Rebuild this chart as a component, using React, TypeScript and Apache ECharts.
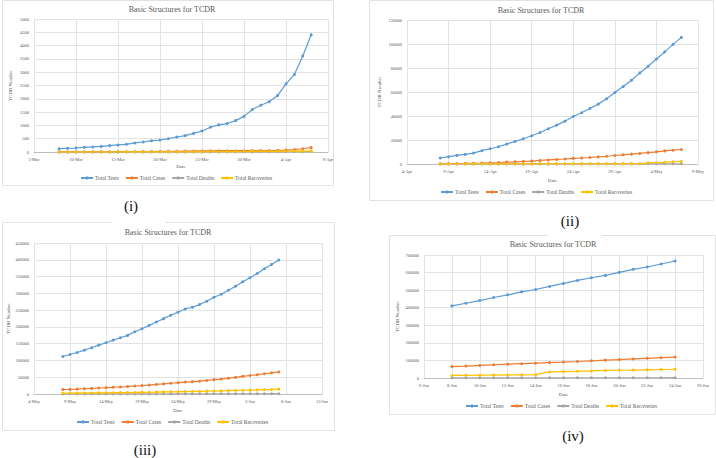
import React, { useEffect, useRef } from "react";
import * as echarts from "echarts";

const MONTHS = ["Jan", "Feb", "Mar", "Apr", "May", "Jun", "Jul"];
function dayLabels(month: number, day: number, count: number): string[] {
  const out: string[] = [];
  const d = new Date(2020, month, day);
  for (let i = 0; i < count; i++) {
    out.push(`${d.getDate()}-${MONTHS[d.getMonth()]}`);
    d.setDate(d.getDate() + 1);
  }
  return out;
}

const SERIES_NAMES = ["Total Tests", "Total Cases", "Total Deaths", "Total Recoveries"];
const COLORS = ["#5b9bd5", "#ed7d31", "#a5a5a5", "#ffc000"];
const PANEL_LABELS = ["(i)", "(ii)", "(iii)", "(iv)"];
const TITLE = "Basic Structures for TCDR";

// Panel (i): axis 5-Mar..9-Apr, data 8-Mar..7-Apr
const cats1 = dayLabels(2, 5, 36);
const start1 = 3;
const tests1 = [125, 140, 150, 175, 190, 210, 240, 265, 290, 340, 375, 425, 450, 500, 565, 615, 700, 790, 930, 1020, 1070, 1180, 1340, 1600, 1755, 1890, 2120, 2560, 2910, 3610, 4410];
const cases1 = [3, 3, 3, 3, 3, 3, 3, 5, 8, 10, 14, 17, 20, 24, 27, 33, 39, 39, 44, 48, 48, 48, 49, 51, 54, 56, 61, 70, 88, 123, 164];
const deaths1 = [0, 0, 0, 0, 0, 0, 0, 0, 0, 0, 1, 1, 1, 2, 2, 3, 4, 4, 5, 5, 5, 5, 5, 5, 6, 6, 6, 8, 9, 12, 17];
const recs1 = [0, 0, 0, 0, 0, 0, 0, 3, 3, 3, 3, 3, 3, 3, 3, 5, 7, 7, 11, 11, 15, 15, 19, 25, 25, 26, 26, 30, 33, 33, 33];

// Panel (ii): axis 4-Apr..9-May, data 8-Apr..7-May
const cats2 = dayLabels(3, 4, 36);
const start2 = 4;
const tests2 = [5000, 6100, 7200, 8000, 9100, 11100, 12700, 14400, 16600, 18800, 21000, 23500, 26300, 29400, 32400, 35700, 39600, 42700, 46300, 49900, 54300, 59600, 64500, 69800, 75900, 81400, 87500, 93400, 99700, 105500];
const cases2 = [218, 330, 424, 482, 621, 803, 1012, 1231, 1572, 1838, 2144, 2456, 2948, 3382, 3772, 4186, 4689, 4998, 5416, 5913, 6462, 7103, 7667, 8238, 8790, 9455, 10143, 10929, 11500, 12100];
const deaths2 = [20, 21, 27, 30, 34, 39, 46, 50, 60, 75, 84, 91, 101, 110, 120, 127, 131, 140, 145, 152, 155, 163, 168, 170, 175, 177, 182, 183, 186, 199];
const recs2 = [33, 39, 42, 42, 44, 46, 49, 49, 50, 58, 66, 75, 85, 87, 92, 108, 112, 113, 122, 131, 150, 150, 160, 174, 177, 1063, 1210, 1403, 1910, 2101];

// Panel (iii): axis 4-May..13-Jun, data 8-May..7-Jun
const cats3 = dayLabels(4, 4, 41);
const start3 = 4;
const tests3 = [111800, 117800, 123800, 130700, 137700, 145700, 152700, 160700, 167700, 174700, 185600, 194600, 204600, 214600, 224600, 234500, 243500, 253500, 258500, 266500, 276500, 288400, 297400, 309400, 321400, 334400, 346300, 359300, 373300, 386200, 399200];
const cases3 = [13134, 13770, 14657, 15691, 16660, 17822, 18863, 20065, 20995, 22268, 23870, 25121, 26738, 28511, 30205, 32078, 33610, 35585, 36751, 38292, 40321, 42844, 44608, 47153, 49534, 52445, 55140, 57563, 60391, 63026, 65769];
const deaths3 = [206, 214, 228, 239, 250, 269, 283, 298, 314, 328, 349, 370, 386, 408, 432, 452, 480, 480, 501, 522, 544, 582, 610, 650, 672, 709, 746, 781, 811, 846, 888];
const recs3 = [2101, 2414, 2650, 2902, 3147, 3361, 3584, 3882, 4117, 4373, 4585, 4993, 5207, 5602, 6190, 6486, 6901, 7334, 7579, 7925, 8425, 9015, 9375, 9781, 10597, 11120, 11590, 12161, 12804, 13325, 14560];

// Panel (iv): axis 6-Jun..26-Jun, data 8-Jun..24-Jun
const cats4 = dayLabels(5, 6, 21);
const start4 = 2;
const tests4 = [410300, 425600, 440800, 458000, 473300, 490500, 503800, 521000, 538200, 555300, 570600, 584000, 601100, 618300, 631700, 648900, 666000];
const cases4 = [65000, 68000, 71500, 75000, 78500, 81500, 84500, 87500, 90500, 94000, 98000, 101500, 105000, 108500, 112000, 115500, 119000];
const deaths4 = [930, 975, 1012, 1049, 1095, 1139, 1171, 1209, 1262, 1305, 1343, 1388, 1425, 1464, 1502, 1545, 1582];
const recs4 = [14560, 15337, 15899, 16748, 17249, 17827, 18730, 34500, 36264, 38189, 40164, 42945, 43993, 45077, 46755, 48401, 49666];

const yMax = [5000, 120000, 450000, 700000];
const yStep = [500, 20000, 50000, 100000];

const panelData = [
  { cats: cats1, start: start1, series: [tests1, cases1, deaths1, recs1], labelEvery: 4 },
  { cats: cats2, start: start2, series: [tests2, cases2, deaths2, recs2], labelEvery: 4 },
  { cats: cats3, start: start3, series: [tests3, cases3, deaths3, recs3], labelEvery: 4 },
  { cats: cats4, start: start4, series: [tests4, cases4, deaths4, recs4], labelEvery: 1 },
];

// layout (pixels)
const layout = [
  { card: [2, 0, 331, 185], grid: [34, 19, 294, 133], title: [172, 9], legend: [80, 175], xGap: 12, yGap: 21, label: [131, 206] },
  { card: [369, 0, 344, 200], grid: [407, 20, 291, 144], title: [541, 10], legend: [440, 189], xGap: 14, yGap: 25, label: [570, 221] },
  { card: [2, 222, 332, 208], grid: [34, 243, 288, 151], title: [168, 232], legend: [76, 419], xGap: 14, yGap: 23, label: [145, 450] },
  { card: [389, 235, 326, 179], grid: [424, 255, 279, 123], title: [553, 244], legend: [465, 403], xGap: 14, yGap: 24, label: [573, 436] },
];

const FONT = '"Liberation Serif", "Times New Roman", serif';
const TXT = "#595959";

function pad(values: number[], start: number, total: number): (number | string)[] {
  const out: (number | string)[] = [];
  for (let i = 0; i < total; i++) {
    const j = i - start;
    out.push(j >= 0 && j < values.length ? values[j] : "-");
  }
  return out;
}

export default function App() {
  const ref = useRef<HTMLDivElement>(null);
  useEffect(() => {
    if (!ref.current) return;
    const chart = echarts.init(ref.current, undefined, { renderer: "svg" });
    const grid: any[] = [];
    const xAxis: any[] = [];
    const yAxis: any[] = [];
    const series: any[] = [];
    const legend: any[] = [];
    const graphic: any[] = [];

    panelData.forEach((p, i) => {
      const L = layout[i];
      graphic.push({
        type: "rect",
        shape: { x: L.card[0] + 0.5, y: L.card[1] + 0.5, width: L.card[2], height: L.card[3] },
        style: { fill: "#fff", stroke: "#e2e2e2", lineWidth: 1 },
        z: -10,
        silent: true,
      });
      graphic.push({
        type: "text",
        x: L.title[0],
        y: L.title[1],
        style: { text: TITLE, textAlign: "center", textVerticalAlign: "middle", fontSize: 8, fontFamily: FONT, fill: TXT },
        silent: true,
      });
      graphic.push({
        type: "text",
        x: L.label[0],
        y: L.label[1],
        style: { text: PANEL_LABELS[i], textAlign: "center", textVerticalAlign: "middle", fontSize: 15, fontFamily: FONT, fill: "#111" },
        silent: true,
      });
      grid.push({ left: L.grid[0], top: L.grid[1], width: L.grid[2], height: L.grid[3], containLabel: false });
      xAxis.push({
        type: "category",
        gridIndex: i,
        data: p.cats,
        boundaryGap: false,
        name: "Date",
        nameLocation: "middle",
        nameGap: L.xGap,
        nameTextStyle: { fontSize: 5, fontFamily: FONT, color: TXT },
        axisLine: { lineStyle: { color: "#bfbfbf", width: 1 } },
        axisTick: { show: false },
        axisLabel: { interval: p.labelEvery, fontSize: 4.5, fontFamily: FONT, color: TXT, margin: 5 },
        splitLine: { show: true, interval: p.labelEvery, lineStyle: { color: "#e3e3e3", width: 1 } },
      });
      yAxis.push({
        type: "value",
        gridIndex: i,
        min: 0,
        max: yMax[i],
        interval: yStep[i],
        name: "TCDR Number",
        nameLocation: "middle",
        nameRotate: 90,
        nameGap: L.yGap,
        nameTextStyle: { fontSize: 5, fontFamily: FONT, color: TXT },
        axisLine: { show: false },
        axisTick: { show: false },
        axisLabel: { fontSize: 4.5, fontFamily: FONT, color: TXT, margin: 5, formatter: (v: number) => String(v) },
        splitLine: { show: true, lineStyle: { color: "#e3e3e3", width: 1 } },
      });
      p.series.forEach((vals, k) => {
        series.push({
          type: "line",
          name: SERIES_NAMES[k],
          xAxisIndex: i,
          yAxisIndex: i,
          data: pad(vals, p.start, p.cats.length),
          symbol: "circle",
          symbolSize: 3,
          showSymbol: true,
          color: COLORS[k],
          lineStyle: { width: 1.2, color: COLORS[k] },
          itemStyle: { color: COLORS[k] },
        });
      });
      legend.push({
        data: SERIES_NAMES,
        left: L.legend[0],
        top: L.legend[1],
        orient: "horizontal",
        itemWidth: 12,
        itemHeight: 4,
        itemGap: 6,
        padding: 0,
        textStyle: { fontSize: 5.5, fontFamily: FONT, color: TXT, padding: [0, 0, 0, -3] },
      });
    });

    // gaps in card borders
    graphic.push({ type: "rect", shape: { x: 112, y: 220, width: 53, height: 4 }, style: { fill: "#fff" }, z: -5, silent: true });
    graphic.push({ type: "rect", shape: { x: 548, y: 233, width: 54, height: 4 }, style: { fill: "#fff" }, z: -5, silent: true });

    chart.setOption({
      animation: false,
      backgroundColor: "#fff",
      textStyle: { fontFamily: FONT },
      grid,
      xAxis,
      yAxis,
      series,
      legend,
      graphic,
    });
    return () => chart.dispose();
  }, []);
  return <div ref={ref} style={{ position: "fixed", left: 0, top: 0, width: 716, height: 458 }} />;
}
